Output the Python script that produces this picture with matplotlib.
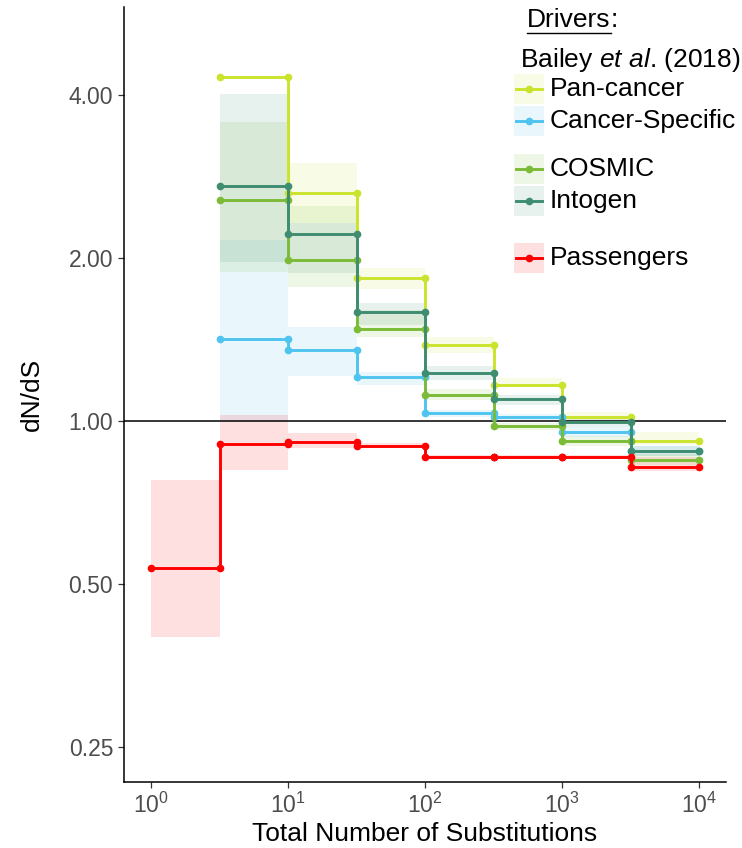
import matplotlib
matplotlib.use("Agg")
import matplotlib.pyplot as plt
from matplotlib.ticker import FixedLocator, LogFormatterMathtext, NullLocator

plt.rcParams["font.family"] = ["Liberation Sans", "DejaVu Sans"]
plt.rcParams["mathtext.fontset"] = "custom"
plt.rcParams["mathtext.rm"] = "Liberation Sans"
plt.rcParams["mathtext.it"] = "Liberation Sans:italic"

# bin edges (total substitutions), half-decade bins
edges = [1, 3.162, 10, 31.62, 100, 316.2, 1000, 3162, 10000]

# drivers start at the second bin
pan = [4.31, 2.64, 1.84, 1.38, 1.164, 1.017, 0.917]
pan_lo = [None, 2.32, 1.751, 1.337, 1.154, 0.997, 0.903]
pan_hi = [None, 3.00, 1.914, 1.428, 1.202, 1.040, 0.953]

cspec = [1.417, 1.352, 1.206, 1.033, 1.019, 0.954, 0.879]
cspec_lo = [1.00, 1.211, 1.165, 1.017, 1.004, 0.935, 0.860]
cspec_hi = [2.16, 1.493, 1.233, 1.048, 1.030, 0.975, 0.900]

cosmic = [2.56, 1.98, 1.477, 1.115, 0.979, 0.920, 0.847]
cosmic_lo = [1.884, 1.77, 1.428, 1.093, 0.962, 0.900, 0.830]
cosmic_hi = [3.56, 2.49, 1.603, 1.144, 0.992, 0.940, 0.870]

intogen = [2.717, 2.215, 1.59, 1.225, 1.098, 0.994, 0.880]
intogen_lo = [1.966, 1.876, 1.504, 1.190, 1.070, 0.975, 0.860]
intogen_hi = [4.02, 2.32, 1.654, 1.263, 1.117, 1.010, 0.900]

# passengers cover all bins
pass_ = [0.535, 0.907, 0.916, 0.900, 0.857, 0.857, 0.857, 0.823]
pass_lo = [0.399, 0.812, 0.890, 0.890, 0.850, 0.850, 0.850, 0.809]
pass_hi = [0.778, 1.026, 0.949, 0.910, 0.865, 0.865, 0.865, 0.859]

yticks = [0.25, 0.5, 1.0, 2.0, 4.0]
xticks = [1, 10, 100, 1000, 10000]

C_PAN = "#cbe32d"; C_CS = "#4ec4ef"; C_COS = "#7bbb38"; C_INT = "#3f8d71"; C_PAS = "#ff0000"

series = [
    ("Pan-cancer", pan, pan_lo, pan_hi, C_PAN, 1),
    ("Cancer-Specific", cspec, cspec_lo, cspec_hi, C_CS, 1),
    ("COSMIC", cosmic, cosmic_lo, cosmic_hi, C_COS, 1),
    ("Intogen", intogen, intogen_lo, intogen_hi, C_INT, 1),
    ("Passengers", pass_, pass_lo, pass_hi, C_PAS, 0),
]

fig = plt.figure(figsize=(7.42, 8.48), dpi=100)
ax = fig.add_axes([0.1666, 0.0776, 0.979 - 0.1666, 0.9914 - 0.0776])

# bands first
for name, v, lo, hi, col, start in series:
    for i in range(len(v)):
        if lo[i] is None:
            continue
        x0, x1 = edges[start + i], edges[start + i + 1]
        ax.fill_between([x0, x1], [lo[i]] * 2, [hi[i]] * 2, color=col, alpha=0.12, lw=0, zorder=1)

ax.axhline(1.0, color="black", lw=1.1, zorder=2)

for name, v, lo, hi, col, start in series:
    xs, ys = [], []
    for i in range(len(v)):
        xs += [edges[start + i], edges[start + i + 1]]
        ys += [v[i], v[i]]
    ax.plot(xs, ys, color=col, lw=2.1, marker="o", ms=4.5, zorder=3, solid_joinstyle="miter")

ax.set_xscale("log")
ax.set_yscale("log", base=2)
ax.set_xlim(10 ** -0.2, 10 ** 4.2)
ax.set_ylim(2 ** -2.216, 2 ** 2.538)
ax.xaxis.set_major_locator(FixedLocator(xticks))
ax.xaxis.set_major_formatter(LogFormatterMathtext())
ax.xaxis.set_minor_locator(NullLocator())
ax.yaxis.set_major_locator(FixedLocator(yticks))
ax.yaxis.set_minor_locator(NullLocator())
ax.set_yticklabels([f"{t:.2f}" for t in yticks])
ax.tick_params(labelsize=16.5, labelcolor="#4d4d4d", length=4, width=0.9, color="#333333")
for s in ["top", "right"]:
    ax.spines[s].set_visible(False)
for s in ["left", "bottom"]:
    ax.spines[s].set_linewidth(1.1)
ax.set_xlabel("Total Number of Substitutions", fontsize=19, labelpad=3)
ax.set_ylabel("dN/dS", fontsize=19, labelpad=18)

# hand-drawn legend in pixel coordinates
lg = fig.add_axes([0, 0, 1, 1], zorder=5)
lg.set_xlim(0, 742); lg.set_ylim(848, 0); lg.axis("off")
t = lg.text(527, 20, "Drivers", fontsize=19, ha="left", va="center")
fig.canvas.draw()
bb = t.get_window_extent().transformed(lg.transData.inverted())
x_end = max(bb.x0, bb.x1)
lg.plot([527, x_end], [33, 33], color="black", lw=1.0)
lg.text(x_end, 20, ":", fontsize=19, ha="left", va="center")
lg.text(520, 60, r"Bailey $\it{et\ al}$. (2018)", fontsize=19, ha="left", va="center")
ypos = [89, 121, 169, 201, 258]
for (name, v, lo, hi, col, start), yy in zip(series, ypos):
    lg.add_patch(plt.Rectangle((514, yy - 15), 30, 30, color=col, alpha=0.12, lw=0))
    lg.plot([516, 542], [yy, yy], color=col, lw=2.1)
    lg.plot([529], [yy], "o", color=col, ms=4.5)
    lg.text(550, yy, name, fontsize=19, ha="left", va="center")

fig.savefig("out.png", dpi=100, facecolor="white")
